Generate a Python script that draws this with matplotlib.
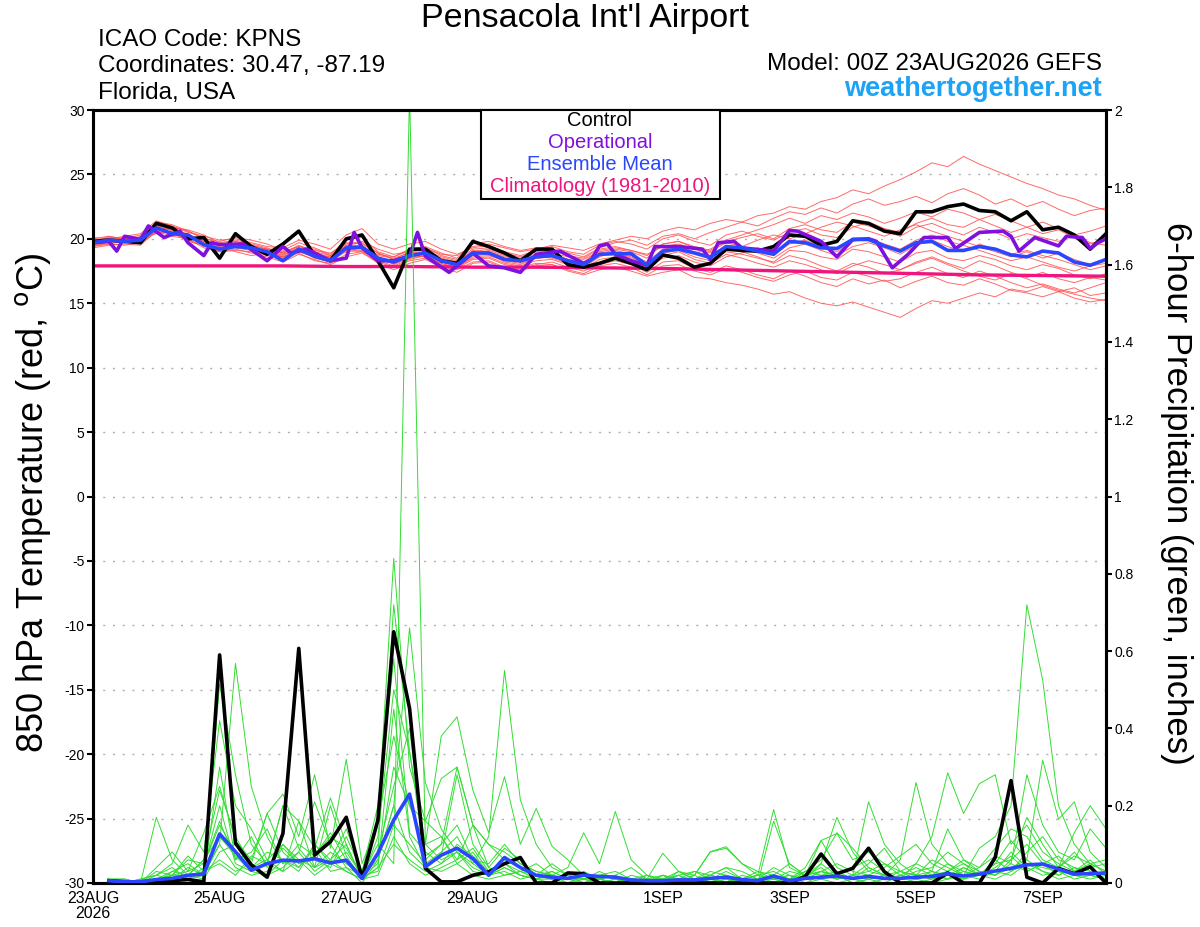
import numpy as np
import matplotlib
matplotlib.use("Agg")
import matplotlib.pyplot as plt
from matplotlib.patches import Rectangle

plt.rcParams['font.family'] = ['Liberation Sans', 'DejaVu Sans']
plt.rcParams['axes.unicode_minus'] = False

# forecast hours (6-hourly), temperature starts at 0h, precip at 6h
temp_hours = np.arange(0, 385, 6)
precip_hours = np.arange(6, 385, 6)

# 850 hPa temperature (C)
control_t = [19.8, 19.9, 19.8, 19.7, 21.2, 20.85, 20.0, 20.1, 18.5, 20.4,
             19.4, 18.8, 19.6, 20.6, 18.7, 18.3, 20.0, 20.3, 18.3, 16.2,
             19.2, 19.2, 18.3, 18.1, 19.8, 19.4, 18.9, 18.3, 19.2, 19.2,
             18.0, 17.8, 18.1, 18.5, 18.1, 17.6, 18.75, 18.5, 17.8, 18.1,
             19.2, 19.1, 19.05, 19.4, 20.3, 20.2, 19.5, 19.8, 21.4, 21.2,
             20.6, 20.4, 22.1, 22.1, 22.5, 22.7, 22.2, 22.1, 21.4, 22.1,
             20.7, 20.9, 20.3, 19.2, 20.4]

mean_t = [19.7, 19.9, 19.8, 19.9, 20.85, 20.4, 20.3, 19.55, 19.2, 19.4,
          19.3, 19.0, 18.3, 19.2, 18.65, 18.3, 19.3, 19.35, 18.5, 18.2,
          18.7, 18.9, 18.3, 18.0, 18.9, 18.9, 18.4, 18.3, 18.6, 18.7,
          18.3, 18.0, 18.8, 18.85, 18.85, 17.95, 19.05, 19.2, 18.9, 18.55,
          19.4, 19.3, 19.05, 18.8, 19.8, 19.7, 19.3, 19.25, 19.95, 19.95,
          19.45, 19.05, 19.7, 19.8, 19.1, 19.1, 19.4, 19.2, 18.75, 18.6,
          19.05, 18.9, 18.2, 17.95, 18.4]

oper_hours = [0, 6, 9, 12, 18, 21, 27, 33, 36, 42, 45, 48, 57, 66, 72, 75, 81, 90,
              96, 99, 102, 108, 114, 120, 123, 126, 135, 138, 144, 150, 156, 162,
              168, 177, 186, 189, 192, 195, 198, 204, 210, 213, 222, 231, 234, 237,
              243, 246, 258, 264, 267, 276, 282, 288, 294, 297, 303, 309, 315, 324,
              327, 336, 345, 348, 351, 357, 366, 369, 375, 378, 381, 384]
oper_t = [19.7, 19.8, 19.05, 20.2, 19.95, 21.0, 20.1, 20.6, 19.7, 18.7, 19.7, 19.55,
          19.6, 18.3, 19.4, 18.9, 19.2, 18.3, 18.5, 20.5, 19.3, 18.3, 18.3, 18.65,
          20.5, 18.65, 17.4, 17.9, 18.9, 17.9, 17.75, 17.4, 18.8, 19.05, 18.1, 18.4,
          19.45, 19.6, 18.8, 18.3, 17.95, 19.4, 19.4, 19.2, 18.4, 19.7, 19.8, 19.3,
          19.05, 20.65, 20.6, 19.8, 18.6, 19.95, 20.0, 19.8, 17.75, 18.8, 20.1, 20.1,
          19.25, 20.5, 20.6, 20.2, 19.05, 20.1, 19.45, 20.2, 20.1, 19.25, 19.7, 20.0]

clim_hours = [0, 24, 48, 72, 96, 120, 144, 168, 192, 216, 240, 264, 288, 312, 336, 360, 384]
clim_t = [17.9, 17.9, 17.9, 17.9, 17.85, 17.85, 17.8, 17.8, 17.75, 17.7,
          17.6, 17.5, 17.4, 17.3, 17.2, 17.15, 17.1]

members_t = [
    [19.8, 20.1, 20.0, 20.3, 21.0, 20.8, 20.1, 19.9, 19.6, 19.8,
     19.5, 19.2, 19.0, 19.4, 19.1, 18.9, 19.6, 19.8, 19.2, 18.8,
     19.0, 19.3, 18.8, 18.7, 19.4, 19.6, 19.3, 19.0, 19.2, 19.5,
     19.3, 19.1, 19.6, 19.9, 20.2, 20.0, 20.6, 20.9, 20.7, 21.2,
     21.5, 21.3, 21.8, 22.0, 22.5, 22.3, 22.9, 23.2, 23.8, 23.5,
     24.1, 24.6, 25.2, 25.9, 25.6, 26.4, 25.8, 25.3, 24.8, 24.3,
     23.9, 23.4, 23.1, 22.6, 22.2],
    [19.4, 19.6, 19.5, 19.7, 20.5, 20.6, 19.8, 19.5, 19.0, 19.2,
     18.9, 18.6, 18.2, 18.8, 18.4, 18.0, 18.6, 18.9, 18.2, 17.8,
     18.3, 18.5, 17.9, 17.6, 18.2, 18.3, 17.8, 17.5, 17.9, 18.0,
     17.5, 17.2, 17.6, 17.8, 17.5, 17.1, 17.4, 17.6, 17.0, 16.9,
     16.6, 16.4, 16.1, 15.7, 15.9, 15.4, 15.0, 14.8, 15.1, 14.7,
     14.3, 13.9, 14.6, 15.2, 15.0, 15.4, 15.8, 15.5, 16.1, 15.9,
     16.3, 15.9, 16.2, 15.6, 15.8],
    [20.0, 20.2, 19.9, 20.1, 21.3, 21.1, 20.6, 20.0, 19.8, 20.1,
     19.9, 19.6, 19.1, 19.7, 19.3, 18.8, 19.9, 20.1, 19.0, 18.6,
     19.2, 19.4, 18.9, 18.5, 19.6, 19.8, 19.4, 19.1, 19.3, 19.2,
     18.9, 18.6, 19.3, 19.7, 19.9, 19.5, 20.2, 20.4, 20.0, 20.5,
     20.9, 21.3, 21.0, 21.6, 22.1, 21.9, 22.4, 22.0, 22.7, 23.1,
     22.6, 22.9, 23.3, 22.8, 23.5, 23.9, 23.4, 22.7, 23.1, 22.5,
     22.9, 22.3, 21.8, 22.2, 22.4],
    [19.6, 19.8, 19.7, 20.0, 20.8, 20.3, 20.2, 19.4, 19.1, 19.6,
     19.2, 19.1, 18.5, 19.0, 18.6, 18.4, 19.1, 19.3, 18.4, 18.1,
     18.6, 18.8, 18.2, 17.9, 18.7, 18.8, 18.2, 18.0, 18.5, 18.6,
     18.2, 17.9, 18.7, 18.9, 18.6, 18.0, 18.9, 19.1, 18.6, 18.3,
     19.0, 18.8, 18.5, 18.2, 19.1, 19.0, 18.6, 18.4, 19.2, 19.0,
     18.6, 18.2, 18.9, 19.1, 18.5, 18.3, 18.7, 18.4, 17.9, 17.6,
     18.0, 17.7, 17.2, 16.9, 17.3],
    [19.5, 19.9, 20.1, 19.8, 20.9, 20.7, 20.4, 19.7, 19.3, 19.5,
     19.4, 19.0, 18.7, 19.3, 18.9, 18.5, 19.5, 19.4, 18.7, 18.5,
     18.9, 19.0, 18.5, 18.2, 19.1, 19.0, 18.6, 18.5, 18.8, 18.9,
     18.6, 18.4, 19.0, 19.2, 19.0, 18.5, 19.6, 19.8, 19.4, 19.1,
     19.8, 20.1, 20.4, 20.0, 20.8, 21.1, 20.7, 20.5, 21.3, 21.0,
     20.6, 20.2, 20.9, 21.2, 20.7, 20.3, 20.9, 20.5, 20.0, 20.4,
     20.1, 19.8, 20.3, 19.7, 19.5],
    [19.3, 19.5, 19.6, 19.5, 20.6, 20.2, 20.0, 19.3, 19.0, 19.1,
     19.0, 18.8, 18.4, 18.9, 18.3, 18.1, 18.8, 19.0, 18.1, 17.6,
     18.1, 18.4, 17.8, 17.4, 18.1, 18.2, 17.7, 17.6, 18.0, 18.2,
     17.8, 17.5, 18.0, 18.3, 18.0, 17.4, 18.2, 18.3, 17.7, 17.4,
     17.9, 17.6, 17.2, 16.9, 17.5, 17.1, 16.6, 16.3, 16.9, 16.5,
     16.8, 16.2, 16.7, 17.1, 16.6, 16.4, 16.9, 16.5, 16.0, 15.8,
     15.5, 15.9, 15.4, 15.1, 15.3],
    [19.9, 20.0, 20.2, 20.4, 21.4, 21.0, 20.5, 20.2, 19.9, 20.0,
     19.7, 19.4, 19.3, 19.9, 19.6, 19.2, 20.3, 20.8, 19.6, 19.2,
     19.6, 19.8, 19.2, 18.8, 19.3, 19.5, 19.0, 18.7, 19.1, 19.4,
     19.0, 18.8, 19.5, 19.8, 19.6, 19.2, 20.0, 20.3, 19.8, 19.5,
     20.3, 20.6, 20.2, 19.9, 20.5, 20.8, 20.3, 20.1, 20.9, 21.3,
     20.8, 20.5, 21.2, 21.6, 21.1, 20.9, 21.5, 21.0, 20.5, 20.9,
     20.4, 20.7, 20.1, 19.6, 20.0],
    [19.6, 19.7, 19.9, 19.6, 20.7, 20.5, 20.1, 19.6, 19.4, 19.0,
     18.7, 18.9, 18.8, 19.1, 18.7, 18.6, 19.2, 19.0, 18.5, 18.3,
     18.7, 18.6, 18.0, 17.8, 18.5, 18.6, 18.1, 17.9, 18.3, 18.4,
     18.0, 17.7, 18.4, 18.6, 18.3, 17.8, 18.5, 18.7, 18.2, 17.9,
     18.6, 18.9, 19.3, 18.8, 19.6, 19.9, 19.4, 19.0, 19.8, 20.1,
     19.6, 19.2, 19.9, 20.3, 19.8, 19.5, 19.1, 18.7, 18.3, 18.6,
     18.2, 17.8, 17.5, 17.9, 18.1],
    [20.1, 20.0, 19.8, 20.2, 21.1, 20.9, 20.7, 20.3, 19.7, 19.9,
     19.6, 19.3, 18.9, 19.5, 19.0, 18.7, 19.7, 19.6, 18.9, 18.4,
     19.0, 19.1, 18.6, 18.3, 19.0, 19.2, 18.8, 18.4, 18.7, 18.8,
     18.4, 18.1, 18.9, 19.1, 18.8, 18.2, 19.2, 19.4, 19.0, 18.7,
     19.5, 19.2, 18.9, 18.5, 19.3, 19.6, 19.1, 18.7, 19.4, 19.7,
     19.3, 18.8, 19.5, 19.9, 19.4, 19.0, 19.6, 19.2, 18.8, 19.1,
     18.7, 18.4, 18.0, 17.6, 17.9],
    [19.4, 19.8, 19.9, 20.0, 20.4, 20.6, 20.3, 19.8, 19.5, 19.3,
     19.1, 18.7, 18.6, 19.2, 18.8, 18.3, 19.0, 19.1, 18.3, 17.9,
     18.4, 18.7, 18.1, 17.7, 18.4, 18.5, 18.0, 17.8, 18.1, 18.0,
     17.6, 17.3, 17.9, 18.1, 17.8, 17.2, 17.9, 18.0, 17.5, 17.2,
     17.7, 17.4, 17.0, 16.7, 17.2, 17.5, 17.0, 16.8, 17.4, 17.1,
     16.7, 16.9, 17.4, 17.8, 17.3, 17.0, 17.5, 17.1, 16.6, 16.2,
     16.5, 16.1, 15.8, 16.2, 16.6],
    [19.7, 20.2, 20.0, 19.9, 20.9, 20.4, 19.9, 19.5, 19.2, 19.7,
     19.3, 19.1, 18.6, 19.1, 18.5, 18.2, 19.4, 19.5, 18.6, 18.0,
     18.5, 18.9, 18.4, 18.1, 18.8, 19.1, 18.7, 18.3, 18.6, 18.5,
     18.1, 17.8, 18.6, 19.0, 18.7, 18.1, 19.0, 19.3, 18.9, 19.2,
     19.9, 20.3, 20.7, 21.1, 21.6, 21.2, 21.8, 21.5, 22.0, 21.7,
     21.2, 21.6, 22.1, 21.7, 22.3, 22.0, 21.5, 21.9, 21.4, 20.9,
     21.3, 20.8, 20.3, 20.6, 21.0],
    [19.5, 19.6, 19.8, 20.1, 20.5, 20.9, 20.6, 20.1, 19.6, 19.4,
     19.3, 19.2, 18.9, 19.4, 19.2, 18.7, 19.3, 19.2, 18.8, 18.6,
     19.1, 19.3, 18.7, 18.4, 19.2, 19.3, 18.9, 18.6, 19.0, 19.1,
     18.7, 18.5, 19.2, 19.4, 19.1, 18.8, 19.4, 19.6, 19.2, 18.9,
     19.3, 19.0, 18.6, 18.1, 18.7, 18.4, 17.9, 17.5, 18.1, 17.8,
     17.3, 17.6, 18.2, 18.6, 18.1, 17.7, 18.3, 17.9, 17.4, 17.0,
     17.4, 16.9, 16.6, 17.0, 16.8],
    [19.8, 19.9, 20.1, 19.7, 21.0, 20.6, 20.2, 19.8, 19.5, 19.8,
     19.5, 19.2, 18.8, 19.3, 18.9, 18.6, 19.5, 19.7, 18.9, 18.4,
     18.8, 18.9, 18.4, 18.0, 18.9, 19.0, 18.5, 18.2, 18.6, 18.8,
     18.4, 18.2, 19.1, 19.3, 19.1, 18.7, 19.6, 19.8, 19.3, 19.0,
     19.7, 19.4, 19.9, 20.3, 20.0, 20.4, 20.9, 21.3, 21.0, 20.6,
     20.2, 20.7, 21.1, 20.6, 20.2, 19.8, 19.4, 19.0, 18.6, 19.0,
     18.5, 18.9, 18.4, 18.0, 18.3],
    [19.6, 20.0, 19.7, 20.0, 20.7, 20.8, 20.3, 19.6, 19.3, 19.6,
     19.2, 18.9, 18.6, 19.0, 18.6, 18.3, 19.1, 19.3, 18.5, 18.1,
     18.5, 18.7, 18.1, 17.8, 18.6, 18.7, 18.3, 18.1, 18.5, 18.6,
     18.3, 18.0, 18.8, 18.9, 18.5, 17.9, 18.7, 19.0, 18.4, 18.1,
     18.8, 18.5, 18.1, 17.8, 18.3, 18.0, 17.6, 17.3, 17.9, 18.3,
     18.0, 17.6, 18.1, 18.5, 18.0, 17.5, 17.1, 16.8, 17.3, 16.9,
     16.4, 16.0, 15.7, 15.4, 15.2],
]

# 6-hour precipitation (inches)
control_p = [0.006, 0.003, 0.003, 0.005, 0.006, 0.009, 0.003, 0.59, 0.103, 0.047,
             0.015, 0.128, 0.607, 0.072, 0.107, 0.170, 0.012, 0.163, 0.650, 0.452,
             0.038, 0.003, 0.003, 0.020, 0.029, 0.050, 0.066, 0, 0, 0.026,
             0.024, 0, 0, 0, 0, 0, 0, 0, 0, 0,
             0, 0, 0, 0, 0.017, 0.075, 0.024, 0.038, 0.090, 0.029,
             0, 0, 0, 0.026, 0, 0, 0.066, 0.265, 0.015, 0,
             0.038, 0.024, 0.042, 0]

mean_p = [0.006, 0.003, 0.003, 0.009, 0.012, 0.020, 0.023, 0.127, 0.081, 0.033,
          0.050, 0.059, 0.057, 0.063, 0.052, 0.059, 0.012, 0.077, 0.163, 0.230,
          0.042, 0.072, 0.090, 0.063, 0.020, 0.066, 0.040, 0.020, 0.015, 0.012,
          0.020, 0.017, 0.015, 0.008, 0.006, 0.006, 0.008, 0.008, 0.012, 0.015,
          0.009, 0.006, 0.018, 0.006, 0.012, 0.015, 0.018, 0.012, 0.017, 0.012,
          0.012, 0.015, 0.017, 0.024, 0.018, 0.023, 0.031, 0.038, 0.047, 0.049,
          0.036, 0.023, 0.024, 0.026]

members_p = [
    [0, 0, 0, 0.01, 0.02, 0.03, 0.05, 0.15, 0.08, 0.04, 0.06, 0.1, 0.05, 0.07, 0.12, 0.09,
     0.02, 0.1, 0.05, 2.05, 0.1, 0.06, 0.08, 0.04, 0.02, 0.05, 0.03, 0.02, 0.01, 0, 0.02, 0.01,
     0, 0, 0.01, 0, 0, 0.02, 0, 0.01, 0, 0, 0.02, 0, 0.01, 0.03, 0.02, 0,
     0.01, 0.02, 0, 0, 0.01, 0.03, 0.05, 0.02, 0.04, 0.07, 0.03, 0.05, 0.02, 0.04, 0.03, 0.02],
    [0.01, 0.01, 0, 0, 0.03, 0.02, 0.06, 0.24, 0.12, 0.05, 0.18, 0.08, 0.04, 0.1, 0.06, 0.14,
     0.03, 0.16, 0.84, 0.3, 0.16, 0.12, 0.05, 0.08, 0.02, 0.04, 0.02, 0.01, 0.03, 0.01, 0, 0.02,
     0.01, 0, 0, 0.02, 0.01, 0.03, 0.02, 0.01, 0, 0, 0.02, 0.01, 0.03, 0.06, 0.13, 0.09,
     0.04, 0.02, 0.01, 0.05, 0.03, 0.14, 0.06, 0.03, 0.02, 0.06, 0.17, 0.1, 0.04, 0.08, 0.03, 0.01],
    [0, 0, 0.01, 0.02, 0.01, 0.04, 0.02, 0.515, 0.28, 0.1, 0.05, 0.2, 0.09, 0.04, 0.06, 0.03,
     0.01, 0.08, 0.72, 0.34, 0.06, 0.1, 0.3, 0.15, 0.1, 0.06, 0.04, 0.02, 0.05, 0.02, 0.01, 0,
     0, 0.01, 0, 0.01, 0.02, 0, 0.01, 0.03, 0.01, 0, 0.16, 0.05, 0.02, 0.11, 0.04, 0.02,
     0.05, 0.09, 0.03, 0.02, 0.06, 0.04, 0.02, 0.09, 0.12, 0.2, 0.72, 0.525, 0.2, 0.1, 0.05, 0.03],
    [0, 0, 0, 0.17, 0.06, 0.02, 0.03, 0.1, 0.568, 0.25, 0.12, 0.05, 0.08, 0.21, 0.1, 0.04,
     0.02, 0.06, 0.2, 0.66, 0.26, 0.14, 0.08, 0.05, 0.12, 0.55, 0.215, 0.1, 0.04, 0.02, 0.01, 0.03,
     0.01, 0, 0.02, 0.01, 0, 0.01, 0.02, 0.04, 0.01, 0.02, 0.01, 0, 0.03, 0.02, 0.01, 0.02,
     0.21, 0.1, 0.05, 0.02, 0.03, 0.01, 0.04, 0.02, 0.05, 0.11, 0.06, 0.318, 0.165, 0.21, 0.08, 0.04],
    [0.01, 0, 0, 0.02, 0.05, 0.15, 0.08, 0.42, 0.2, 0.14, 0.06, 0.03, 0.16, 0.09, 0.22, 0.1,
     0.01, 0.12, 0.5, 0.34, 0.1, 0.38, 0.43, 0.24, 0.13, 0.275, 0.1, 0.193, 0.095, 0.06, 0.02, 0.01,
     0, 0.01, 0.02, 0, 0.01, 0.02, 0.08, 0.09, 0.05, 0.02, 0.19, 0.04, 0.02, 0.05, 0.17, 0.08,
     0.03, 0.02, 0.06, 0.26, 0.1, 0.05, 0.02, 0.04, 0.07, 0.05, 0.03, 0.05, 0.04, 0.13, 0.2, 0.14],
    [0, 0.01, 0, 0.04, 0.08, 0.03, 0.13, 0.25, 0.11, 0.06, 0.18, 0.23, 0.12, 0.28, 0.09, 0.32,
     0.05, 0.16, 0.38, 0.2, 0.16, 0.27, 0.3, 0.15, 0.1, 0.08, 0.05, 0.03, 0.02, 0.04, 0.13, 0.05,
     0.185, 0.06, 0.02, 0.01, 0.03, 0.01, 0.02, 0.04, 0.03, 0.01, 0.02, 0.01, 0.04, 0.11, 0.128, 0.06,
     0.08, 0.05, 0.03, 0.05, 0.12, 0.285, 0.18, 0.257, 0.28, 0.1, 0.15, 0.08, 0.05, 0.03, 0.06, 0.02],
    [0.01, 0.01, 0, 0.01, 0.02, 0.01, 0.04, 0.2, 0.05, 0.03, 0.05, 0.2, 0.16, 0.04, 0.2, 0.07,
     0.01, 0.04, 0.45, 0.12, 0.04, 0.07, 0.28, 0.1, 0.04, 0.02, 0.03, 0.05, 0.02, 0.01, 0.03, 0.01,
     0.02, 0.04, 0.01, 0.077, 0.03, 0.02, 0.081, 0.094, 0.05, 0.03, 0.01, 0.02, 0.01, 0.03, 0.05, 0.03,
     0.02, 0.04, 0.07, 0.1, 0.05, 0.03, 0.06, 0.04, 0.09, 0.14, 0.12, 0.06, 0.04, 0.07, 0.05, 0.03],
    [0, 0, 0.01, 0, 0.01, 0.02, 0.01, 0.08, 0.1, 0.04, 0.08, 0.06, 0.03, 0.1, 0.05, 0.08,
     0.02, 0.05, 0.3, 0.2, 0.1, 0.12, 0.06, 0.15, 0.04, 0.09, 0.06, 0.02, 0.01, 0.02, 0, 0.01,
     0, 0.02, 0.01, 0, 0.03, 0.01, 0, 0.02, 0.01, 0.03, 0.02, 0.05, 0.02, 0.03, 0.02, 0.01,
     0.04, 0.02, 0.03, 0.01, 0.02, 0.05, 0.03, 0.02, 0.06, 0.03, 0.08, 0.12, 0.06, 0.04, 0.02, 0.01],
    [0, 0, 0, 0.01, 0.03, 0.05, 0.02, 0.3, 0.06, 0.12, 0.04, 0.09, 0.05, 0.06, 0.04, 0.12,
     0.03, 0.2, 0.58, 0.13, 0.08, 0.05, 0.1, 0.07, 0.03, 0.06, 0.04, 0.02, 0.03, 0.01, 0.02, 0,
     0.01, 0, 0, 0.02, 0, 0.01, 0.03, 0.02, 0, 0.01, 0.04, 0.02, 0.01, 0.05, 0.02, 0.04,
     0.06, 0.03, 0.01, 0.03, 0.04, 0.08, 0.05, 0.03, 0.02, 0.05, 0.28, 0.15, 0.08, 0.06, 0.14, 0.09],
    [0.01, 0, 0, 0.03, 0.02, 0.06, 0.05, 0.16, 0.06, 0.08, 0.14, 0.05, 0.1, 0.07, 0.13, 0.06,
     0.01, 0.08, 0.25, 0.4, 0.07, 0.1, 0.15, 0.06, 0.05, 0.1, 0.05, 0.03, 0.02, 0.01, 0.01, 0.02,
     0.03, 0.01, 0, 0.01, 0.02, 0.03, 0.01, 0, 0.01, 0.02, 0.01, 0.03, 0.02, 0.04, 0.01, 0.02,
     0.03, 0.05, 0.02, 0.04, 0.02, 0.03, 0.01, 0.02, 0.05, 0.06, 0.1, 0.05, 0.07, 0.03, 0.05, 0.06],
    [0, 0, 0.01, 0.02, 0.04, 0.01, 0.02, 0.1, 0.04, 0.02, 0.03, 0.1, 0.06, 0.04, 0.08, 0.05,
     0.02, 0.03, 0.15, 0.1, 0.05, 0.08, 0.12, 0.05, 0.02, 0.03, 0.01, 0.02, 0.01, 0, 0.01, 0,
     0, 0.01, 0, 0, 0.01, 0, 0.02, 0.01, 0, 0, 0.01, 0, 0.02, 0.03, 0.01, 0.02,
     0.01, 0.02, 0, 0.01, 0.03, 0.02, 0.01, 0.03, 0.02, 0.04, 0.06, 0.03, 0.02, 0.04, 0.02, 0.01],
    [0, 0.01, 0, 0, 0.02, 0.07, 0.03, 0.06, 0.03, 0.05, 0.02, 0.04, 0.08, 0.03, 0.06, 0.1,
     0.01, 0.04, 0.1, 0.06, 0.03, 0.05, 0.08, 0.03, 0.02, 0.04, 0.02, 0.01, 0, 0.02, 0.01, 0.01,
     0.02, 0, 0.01, 0.02, 0.01, 0, 0.01, 0.02, 0.01, 0.02, 0.03, 0.01, 0, 0.02, 0.03, 0.01,
     0.02, 0.01, 0.03, 0.02, 0.01, 0.02, 0.04, 0.02, 0.03, 0.02, 0.05, 0.04, 0.03, 0.02, 0.04, 0.05],
    [0, 0, 0, 0.01, 0.01, 0.02, 0.06, 0.12, 0.07, 0.03, 0.02, 0.06, 0.04, 0.09, 0.03, 0.04,
     0, 0.06, 0.2, 0.08, 0.04, 0.03, 0.05, 0.02, 0.01, 0.02, 0.03, 0.01, 0.02, 0, 0, 0.01,
     0, 0, 0.01, 0, 0.02, 0, 0.01, 0, 0.02, 0.01, 0.01, 0.02, 0, 0.01, 0.02, 0,
     0.01, 0, 0.02, 0.01, 0, 0.01, 0.02, 0.01, 0.03, 0.08, 0.04, 0.02, 0.03, 0.01, 0.02, 0.03],
    [0.01, 0, 0, 0, 0.02, 0.01, 0.03, 0.05, 0.02, 0.07, 0.05, 0.03, 0.06, 0.02, 0.05, 0.03,
     0.01, 0.02, 0.12, 0.05, 0.02, 0.04, 0.06, 0.09, 0.03, 0.05, 0.02, 0.01, 0.01, 0.02, 0, 0,
     0.01, 0, 0, 0.01, 0, 0.01, 0, 0.01, 0, 0.01, 0.02, 0.01, 0.02, 0.01, 0, 0.01,
     0, 0.01, 0.02, 0.01, 0.02, 0.01, 0.03, 0.02, 0.01, 0.03, 0.05, 0.03, 0.01, 0.02, 0.01, 0.02],
]

tick_hours = [0, 48, 96, 144, 216, 264, 312, 360]
tick_labels = ['23AUG\n2026', '25AUG', '27AUG', '29AUG', '1SEP', '3SEP', '5SEP', '7SEP']

W, H = 1200, 927
fig = plt.figure(figsize=(W / 100, H / 100), dpi=100)
ax = fig.add_axes([93 / W, 1 - 883 / H, (1106 - 93) / W, (883 - 110) / H])
ax2 = ax.twinx()

# temperature
for m in members_t:
    ax.plot(temp_hours, m, color='#ff5050', lw=0.7, alpha=0.85, zorder=2)
ax.plot(clim_hours, clim_t, color='#f0147f', lw=2.4, zorder=3)
ax.plot(temp_hours, control_t, color='black', lw=2.6, zorder=5)
ax.plot(oper_hours, oper_t, color='#8010dd', lw=2.6, zorder=6)
ax.plot(temp_hours, mean_t, color='#2a46ff', lw=2.6, zorder=7)

# precipitation
for m in members_p:
    ax2.plot(precip_hours, m, color='#33dd33', lw=0.7, zorder=2)
ax2.plot(precip_hours, control_p, color='black', lw=2.6, zorder=4)
ax2.plot(precip_hours, mean_p, color='#2a46ff', lw=2.6, zorder=5)

ax.set_xlim(0, 384)
ax.set_ylim(-30, 30)
ax2.set_ylim(0, 2)
ax.set_yticks(np.arange(-30, 31, 5))
ax2.set_yticks(np.arange(0, 2.01, 0.2))
ax2.set_yticklabels(['0', '0.2', '0.4', '0.6', '0.8', '1', '1.2', '1.4', '1.6', '1.8', '2'])
ax.set_xticks(tick_hours)
ax.set_xticklabels(tick_labels, fontsize=11.5, linespacing=1.0)

for y in range(-25, 30, 5):
    ax.axhline(y, color='#b0b0b0', lw=1.0, linestyle=(0, (1.5, 5.5)), zorder=1)

ax.tick_params(axis='y', labelsize=10, length=4, width=1.5, direction='out', pad=2)
ax2.tick_params(axis='y', labelsize=10, length=4, width=1.5, direction='out', pad=2)
ax.tick_params(axis='x', length=0, pad=6)
for a in (ax, ax2):
    for s in a.spines.values():
        s.set_linewidth(2.2)

# titles and labels
fig.text(585 / W, 1 - 18 / H, "Pensacola Int'l Airport", fontsize=24.5, ha='center', va='center')
fig.text(98 / W, 1 - 40 / H, 'ICAO Code: KPNS', fontsize=17.5, ha='left', va='center')
fig.text(98 / W, 1 - 66 / H, 'Coordinates: 30.47, -87.19', fontsize=17.5, ha='left', va='center')
fig.text(98 / W, 1 - 93 / H, 'Florida, USA', fontsize=17.5, ha='left', va='center')
fig.text(1102 / W, 1 - 64 / H, 'Model: 00Z 23AUG2026 GEFS', fontsize=17.5, ha='right', va='center')
fig.text(1102 / W, 1 - 89 / H, 'weathertogether.net', fontsize=19.5, fontweight='bold',
         color='#1ca3f5', ha='right', va='center')
fig.text(33 / W, 1 - 503 / H, r'850 hPa Temperature (red, $^\mathrm{o}$C)', fontsize=26,
         rotation=90, ha='center', va='center')
fig.text(1176 / W, 1 - 493 / H, '6-hour Precipitation (green, inches)', fontsize=25,
         rotation=270, ha='center', va='center')

# legend box
fig.patches.append(Rectangle((481 / W, 1 - 199 / H), (720 - 481) / W, (199 - 110) / H,
                             transform=fig.transFigure, facecolor='white', edgecolor='black',
                             lw=1.5, zorder=10))
leg_items = [('Control', 'black', 120), ('Operational', '#8010dd', 142),
             ('Ensemble Mean', '#2a46ff', 164), ('Climatology (1981-2010)', '#f0147f', 186)]
for txt, col, yy in leg_items:
    fig.text(600 / W, 1 - yy / H, txt, color=col, fontsize=14.5, ha='center', va='center', zorder=11)

fig.savefig('out.png', dpi=100)
